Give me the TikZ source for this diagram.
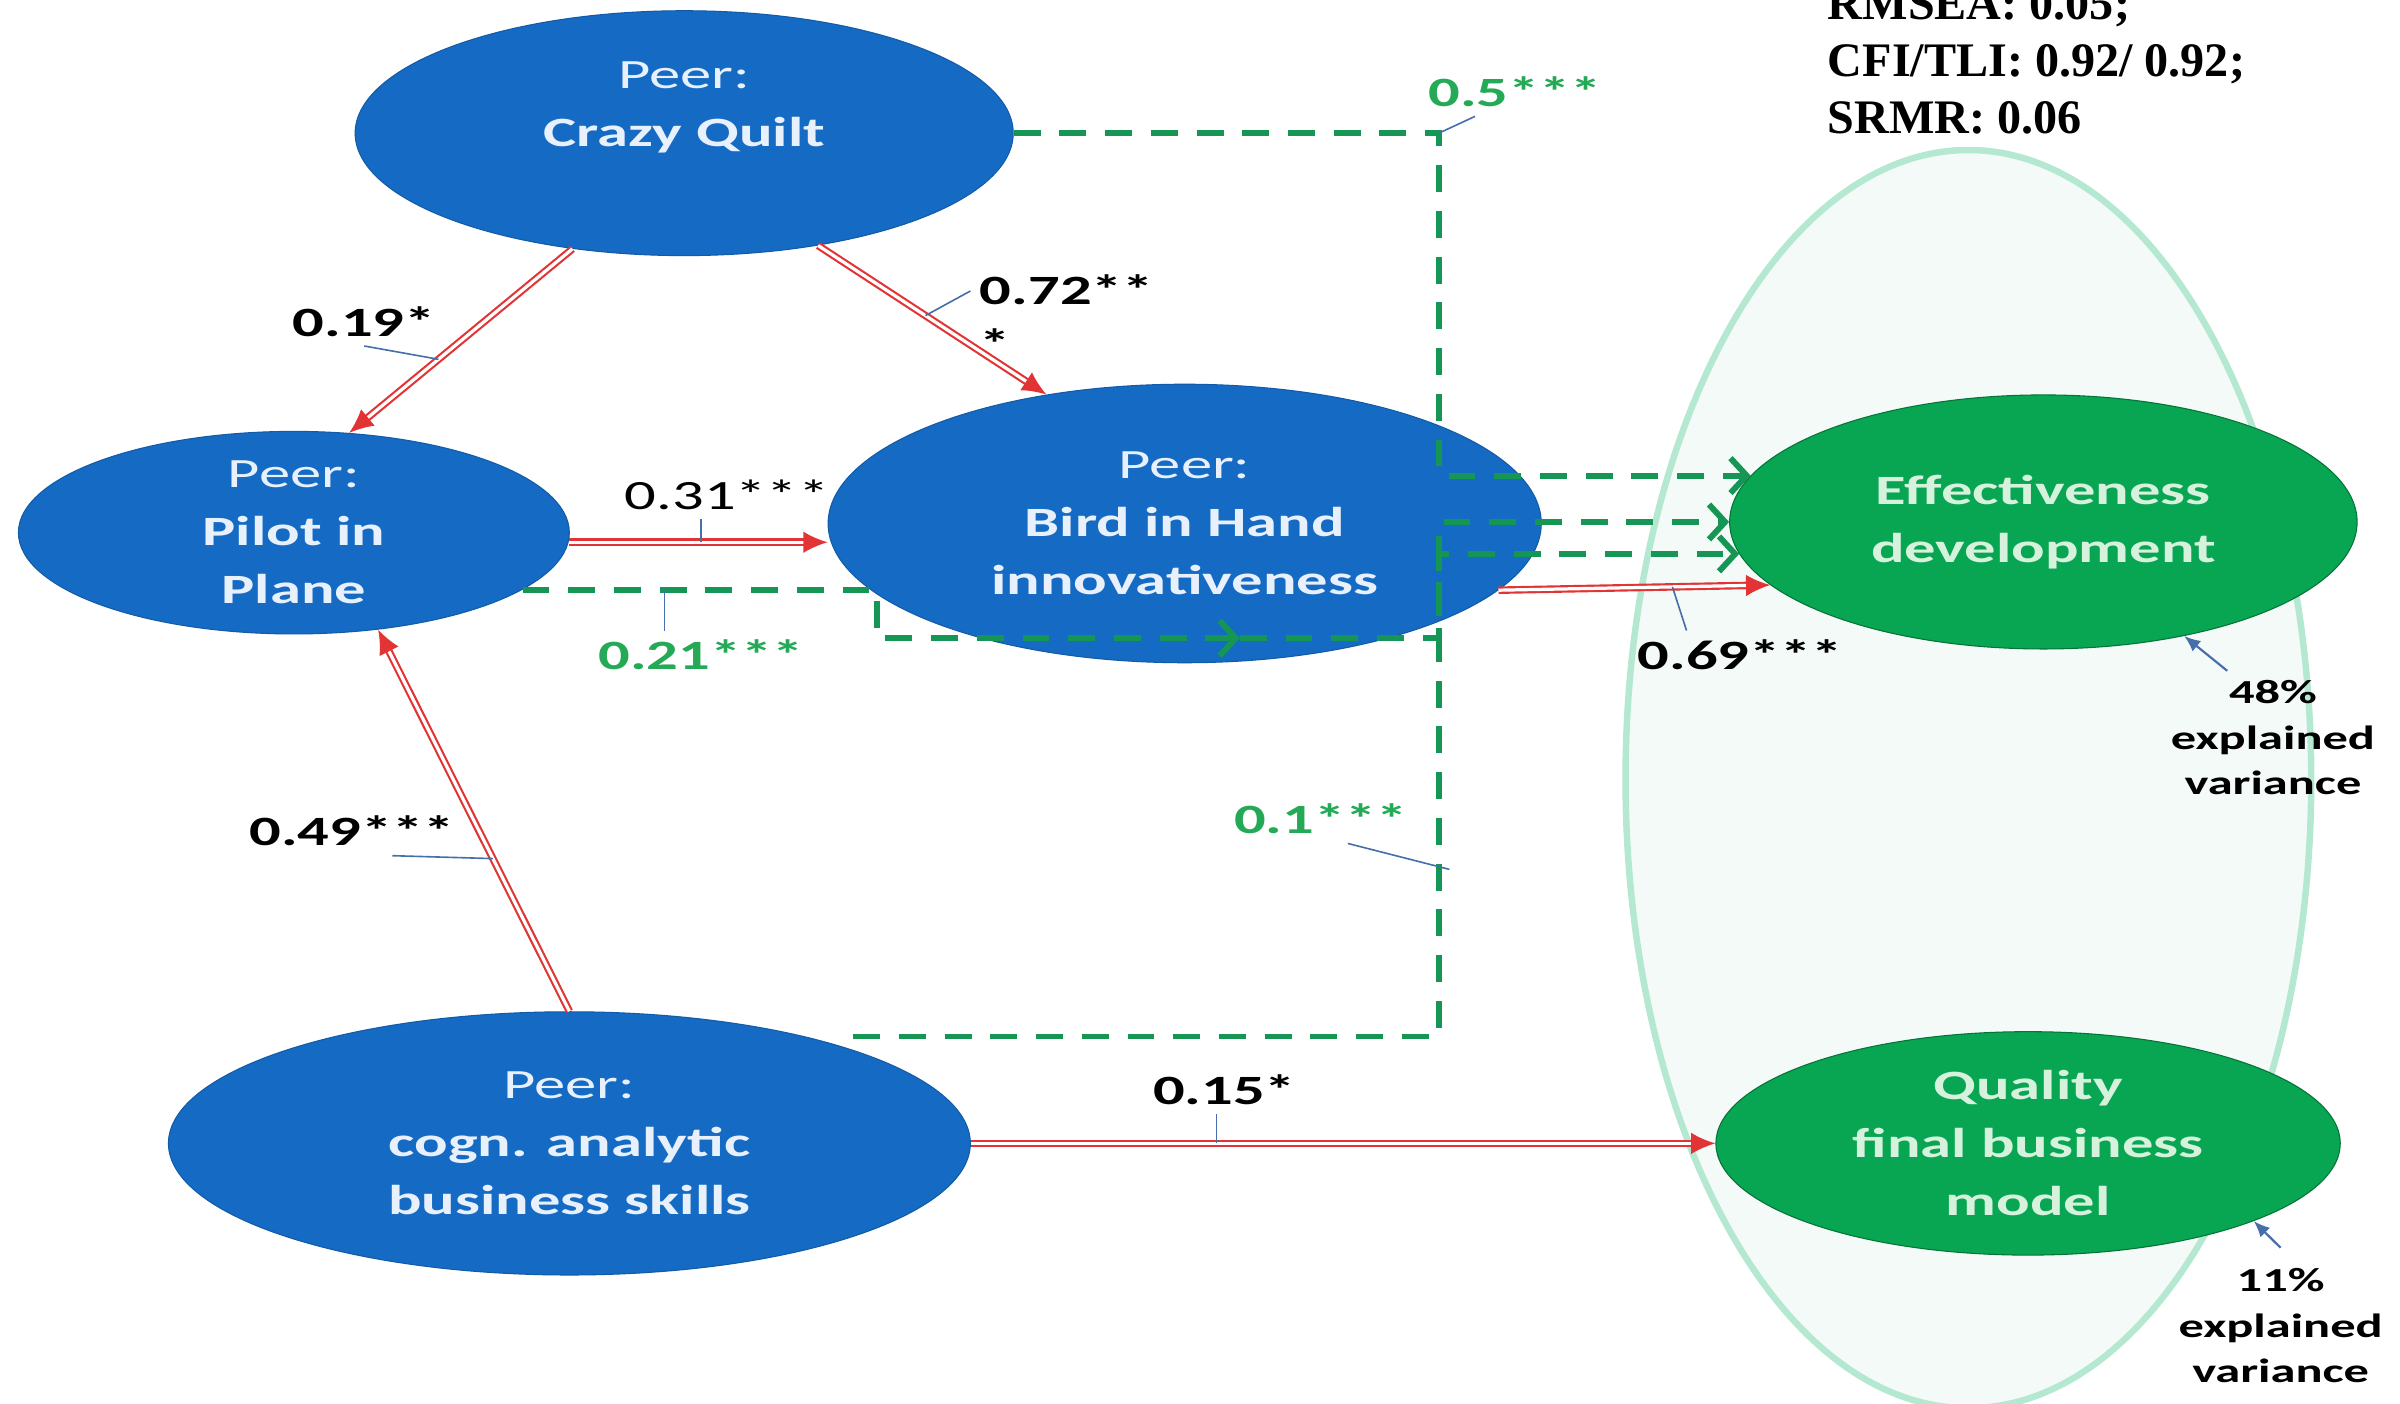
\documentclass[tikz,border=0pt]{standalone}
\usepackage{fontspec}
\setmainfont{Carlito}[FakeStretch=1.5]
\newfontfamily\fitfont{Liberation Serif}
\usetikzlibrary{positioning,shapes.geometric,arrows.meta}
\definecolor{peerblue}{RGB}{21,107,196}
\definecolor{peertext}{RGB}{232,240,252}
\definecolor{outgreen}{RGB}{8,166,82}
\definecolor{outtext}{RGB}{214,242,220}
\definecolor{effred}{RGB}{226,52,52}
\definecolor{pathgreen}{RGB}{22,150,84}
\definecolor{labgreen}{RGB}{36,170,86}
\definecolor{areaedge}{RGB}{180,232,208}
\definecolor{areafill}{RGB}{243,250,247}
\definecolor{leadblue}{RGB}{70,110,170}
\newcommand{\coeffont}{\fontsize{15.5}{20}\selectfont}
\tikzset{peer/.style={ellipse,inner sep=0pt,fill=peerblue,draw=peerblue!85!black,text=peertext,align=center,font=\fontsize{15.5}{21.6}\selectfont}}
\tikzset{outcome/.style={ellipse,inner sep=0pt,fill=outgreen,draw=outgreen!70!black,text=outtext,align=center,font=\fontsize{15.5}{21.6}\selectfont\bfseries}}
\tikzset{coef/.style={font=\coeffont\bfseries}}
\tikzset{gcoef/.style={coef,text=labgreen}}
\tikzset{varnote/.style={align=center,font=\fontsize{12.5}{17}\selectfont\bfseries}}
\tikzset{effect/.style={draw=effred,line width=0.8pt,double=white,double distance=1.2pt,-{Latex[length=9pt,width=8pt]}}}
\tikzset{indirect/.style={draw=pathgreen,line width=2.2pt,dash pattern=on 10pt off 7pt,-{Straight Barb[length=6pt,width=13pt]}}}
\tikzset{leader/.style={draw=leadblue,line width=0.6pt}}
\tikzset{pointer/.style={draw=leadblue,line width=0.8pt,-{Latex[length=6pt,width=5pt]}}}
\tikzset{area/.style={draw=areaedge,line width=2.4pt,fill=areafill}}

\begin{document}
\begin{tikzpicture}[x=0.02cm,y=-0.02cm]
\useasboundingbox (0,0) rectangle (1568,917);

%% fit indices
\node[anchor=west,align=left,font=\fitfont\bfseries\fontsize{17.9}{21.2}\selectfont] (fit) at (1188,40) {RMSEA: 0.05;\\CFI/TLI: 0.92/ 0.92;\\SRMR: 0.06};

%% outcome area
\draw[area] (1286,509) ellipse [x radius=224,y radius=411];

%% constructs
\node[peer,minimum width=8.6cm,minimum height=3.2cm] (cq) at (447,87) {Peer:\\\textbf{Crazy Quilt}\\\mbox{}};
\node[peer,minimum width=7.2cm,minimum height=2.6cm] (pilot) at (192,348) {Peer:\\\textbf{Pilot in}\\\textbf{Plane}};
\node[peer,minimum width=9.32cm,minimum height=3.64cm] (bird) at (774,342) {Peer:\\\textbf{Bird in Hand}\\\textbf{innovativeness}};
\node[peer,minimum width=10.48cm,minimum height=3.44cm] (cogn) at (372,747) {Peer:\\\textbf{cogn. analytic}\\\textbf{business skills}};
\node[outcome,minimum width=8.2cm,minimum height=3.32cm] (eff) at (1335,341) {Effectiveness\\development};
\node[outcome,minimum width=8.16cm,minimum height=2.92cm] (qual) at (1325,747) {Quality\\final business\\model};

%% coefficients
\node[coef] (l19) at (238,210) {0.19*};
\node[coef,anchor=west,align=left] (l72) at (634,207) {0.72**\\*};
\node[font=\coeffont] (l31) at (475,323) {0.31***};
\node[gcoef] (l21) at (458,428) {0.21***};
\node[gcoef] (l5) at (990,60) {0.5***};
\node[coef] (l49) at (230,543) {0.49***};
\node[coef] (l69) at (1137,428) {0.69***};
\node[gcoef] (l1) at (863,535) {0.1***};
\node[coef] (l15) at (800,712) {0.15*};
\node[varnote] (v48) at (1485,482) {48\%\\explained\\variance};
\node[varnote] (v11) at (1490,866) {11\%\\explained\\variance};

%% direct effects
\draw[effect] (cq.226) -- coordinate[pos=.6] (m19) (pilot.61);
\draw[effect] (cq.320) -- coordinate[pos=.47] (m72) (bird.137);
\draw[effect] (pilot.-2) -- coordinate[pos=.51] (m31) (pilot.-2 -| bird.west);
\draw[effect] (bird.-12) -- coordinate[pos=.64] (m69) (eff.193);
\draw[effect] (cogn.north) -- coordinate[pos=.4] (m49) (pilot.311);
\draw[effect] (cogn) -- coordinate[pos=.33] (m15) (qual);

%% indirect effects
\coordinate (vtop) at (940,87);
\coordinate (bend) at (573,417);
\coordinate (mid) at (810,417);
\coordinate (m1) at (947,568);
\draw[indirect] (cq.east) -- (vtop) |- (eff.171);
\draw[indirect] (pilot.-14) -| coordinate[pos=.2] (m21) (bend) -- (mid);
\draw[indirect] (mid) -- (mid -| vtop) |- (eff.180);
\draw[indirect] ([yshift=5pt]cogn.north east) -| (vtop |- eff.186) -- (eff.186);

%% leaders
\draw[leader] (l19.south) -- (m19);
\draw[leader] (l72.165) -- (m72);
\draw[leader] (m31) -- (m31 |- l31.south);
\draw[leader] (m21) -- (m21 |- l21.north);
\draw[leader] ([xshift=-15pt]l5.south) -- (vtop);
\draw[leader] ([xshift=15pt]l49.south) -- (m49);
\draw[leader] (m69) -- ([xshift=-20pt]l69.north);
\draw[leader] ([xshift=10pt]l1.south) -- (m1);
\draw[leader] (m15) -- (m15 |- l15.south);
\draw[pointer] ([xshift=-17pt]v48.north) -- (eff.-39);
\draw[pointer] ([yshift=4pt]v11.north) -- (qual.-19);
\end{tikzpicture}
\end{document}
